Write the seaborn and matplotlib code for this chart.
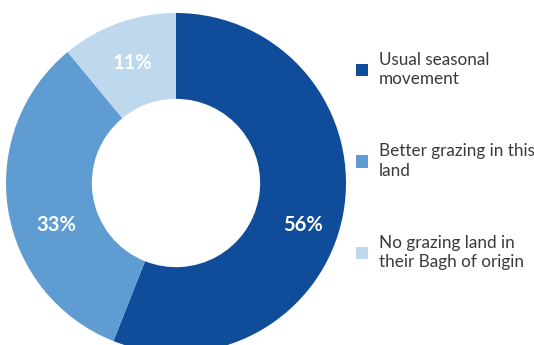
import matplotlib
matplotlib.use("Agg")
import matplotlib.pyplot as plt
import seaborn as sns

categories = ["Usual seasonal\nmovement", "Better grazing in this\nland", "No grazing land in\ntheir Bagh of origin"]
values = [56, 33, 11]
colors = ["#0f4c9a", "#5f9cd2", "#bed8ee"]

sns.set_theme(style="white")
plt.rcParams['font.family'] = ['Lato', 'DejaVu Sans']

fig = plt.figure(figsize=(5.34, 3.45), dpi=100)
fig.patch.set_facecolor("white")
ax = fig.add_axes([6/534, (345-183-170)/345, 340/534, 340/345])
wedges, texts, autotexts = ax.pie(
    values, colors=colors, startangle=90, counterclock=False, radius=1.0,
    wedgeprops=dict(width=0.505, edgecolor="none"),
    autopct=lambda p: f"{p:.0f}%", pctdistance=0.75,
    textprops=dict(color="white", fontsize=14.5, fontweight="bold"))
ax.set_xlim(-1, 1)
ax.set_ylim(-1, 1)
ax.set_aspect("equal")
ax.axis("off")
# nudge percentage labels to match reference placement
autotexts[0].set_position((0.75, -0.245))
autotexts[1].set_position((-0.705, -0.245))

leg = fig.legend(wedges, categories, loc="upper left", bbox_to_anchor=(356/534, 1 - 52/345),
                 frameon=False, fontsize=12.3, labelspacing=3.28, handlelength=0.72, handleheight=0.72,
                 handletextpad=0.6, borderaxespad=0, borderpad=0)
for t in leg.get_texts():
    t.set_color("#3a3a3a")
    t.set_linespacing(1.25)

fig.savefig("out.png", dpi=100, facecolor="white")
